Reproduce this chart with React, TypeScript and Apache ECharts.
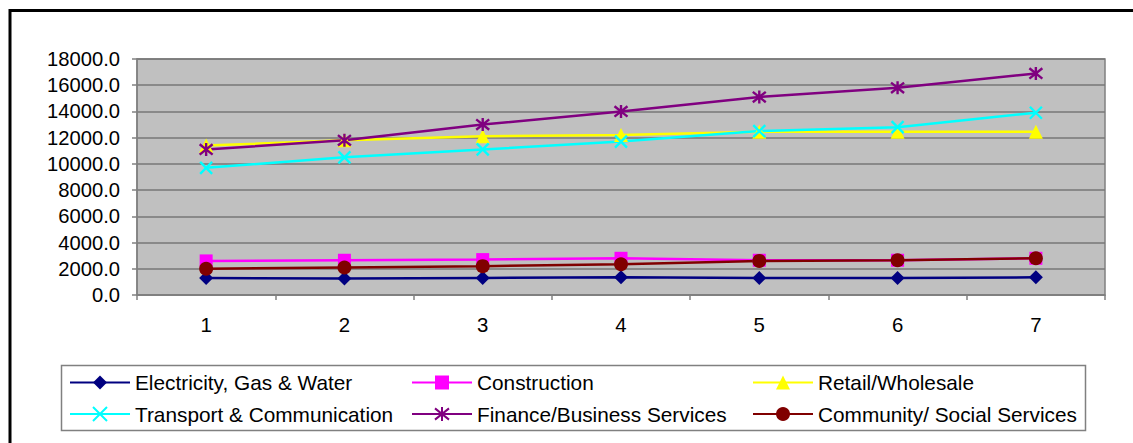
import React, { useEffect, useRef } from "react";
import * as echarts from "echarts";

// Periods on the category axis
const categories = ["1", "2", "3", "4", "5", "6", "7"];

// Sector values per period
const electricity = [1300, 1250, 1300, 1350, 1300, 1300, 1350];
const construction = [2600, 2650, 2700, 2800, 2650, 2650, 2800];
const retail = [11400, 11800, 12100, 12200, 12450, 12450, 12450];
const transport = [9700, 10500, 11100, 11700, 12500, 12800, 13900];
const finance = [11100, 11800, 13000, 14000, 15100, 15800, 16900];
const community = [2000, 2100, 2200, 2350, 2600, 2650, 2800];

const seriesNames = [
  "Electricity, Gas & Water",
  "Construction",
  "Retail/Wholesale",
  "Transport & Communication",
  "Finance/Business Services",
  "Community/ Social Services",
];

const FONT = '"Liberation Sans", Arial, sans-serif';
const CROSS = "path://M0,0L10,10M10,0L0,10";
const STAR = "path://M1,1L9,9M9,1L1,9M5,0L5,10";

function lineSeries(
  name: string,
  data: number[],
  color: string,
  symbol: string,
  symbolSize: number,
  stroked = false
) {
  return {
    name,
    type: "line",
    data,
    symbol,
    symbolSize,
    showSymbol: true,
    lineStyle: { color, width: 2.5 },
    itemStyle: stroked
      ? { color, borderColor: color, borderWidth: 2.4 }
      : { color, borderWidth: 0 },
    emphasis: { disabled: true },
  };
}

export default function App() {
  const ref = useRef<HTMLDivElement>(null);

  useEffect(() => {
    if (!ref.current) return;
    const chart = echarts.init(ref.current, null, { renderer: "svg" });

    const legendBase = {
      orient: "vertical",
      top: 372,
      itemWidth: 60,
      itemHeight: 17.5,
      itemGap: 10.5,
      padding: 0,
      selectedMode: false,
      textStyle: { fontFamily: FONT, fontSize: 20.8, color: "#000" },
    };

    chart.setOption({
      animation: false,
      backgroundColor: "#fff",
      graphic: [
        {
          type: "rect",
          z: -10,
          shape: { x: 10, y: 10.5, width: 1300, height: 700 },
          style: { fill: "none", stroke: "#000", lineWidth: 3 },
        },
        {
          type: "rect",
          z: -5,
          shape: { x: 61.5, y: 365.5, width: 1024, height: 65 },
          style: { fill: "#fff", stroke: "#808080", lineWidth: 1.5 },
        },
      ],
      grid: {
        left: 137,
        top: 59,
        right: 28,
        bottom: 148,
        show: true,
        backgroundColor: "#C0C0C0",
        borderColor: "#808080",
        borderWidth: 1.5,
      },
      legend: [
        { ...legendBase, left: 69, data: [seriesNames[0], seriesNames[3]] },
        { ...legendBase, left: 411, data: [seriesNames[1], seriesNames[4]] },
        { ...legendBase, left: 752, data: [seriesNames[2], seriesNames[5]] },
      ],
      xAxis: {
        type: "category",
        data: categories,
        boundaryGap: true,
        axisLine: { show: true, lineStyle: { color: "#808080", width: 1.5 } },
        axisTick: {
          show: true,
          length: 5,
          inside: false,
          lineStyle: { color: "#808080", width: 1.5 },
        },
        axisLabel: {
          margin: 20,
          fontFamily: FONT,
          fontSize: 20.4,
          color: "#000",
        },
        splitLine: { show: false },
      },
      yAxis: {
        type: "value",
        min: 0,
        max: 18000,
        interval: 2000,
        axisLine: { show: true, lineStyle: { color: "#808080", width: 1.5 } },
        axisTick: {
          show: true,
          length: 5,
          inside: false,
          lineStyle: { color: "#808080", width: 1.5 },
        },
        axisLabel: {
          margin: 17,
          fontFamily: FONT,
          fontSize: 20.2,
          color: "#000",
          formatter: (v: number) => v.toFixed(1),
        },
        splitLine: { show: true, lineStyle: { color: "#777", width: 1.5 } },
      },
      series: [
        lineSeries(seriesNames[0], electricity, "#000080", "diamond", 14),
        lineSeries(seriesNames[1], construction, "#FF00FF", "rect", 13),
        lineSeries(seriesNames[2], retail, "#FFFF00", "triangle", 14),
        lineSeries(seriesNames[3], transport, "#00FFFF", CROSS, 12, true),
        lineSeries(seriesNames[4], finance, "#800080", STAR, 13, true),
        lineSeries(seriesNames[5], community, "#800000", "circle", 14),
      ],
    });

    return () => chart.dispose();
  }, []);

  return (
    <div
      ref={ref}
      style={{ position: "absolute", left: 0, top: 0, width: 1133, height: 443 }}
    />
  );
}
